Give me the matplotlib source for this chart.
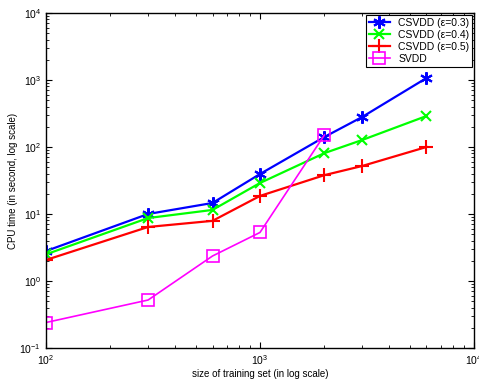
import matplotlib
matplotlib.use('Agg')
import matplotlib.pyplot as plt

# training set sizes
sizes = [100, 300, 600, 1000, 2000, 3000, 6000]
svdd_sizes = [100, 300, 600, 1000, 2000]

# CPU times in seconds
csvdd_03 = [2.8, 10, 14.6, 39.5, 141, 280, 1070]
csvdd_04 = [2.5, 8.7, 11.5, 29, 81, 127, 290]
csvdd_05 = [2.06, 6.4, 7.9, 18.6, 38, 52, 100]
svdd = [0.24, 0.52, 2.36, 5.3, 151]

labels = ['CSVDD (\u03b5=0.3)', 'CSVDD (\u03b5=0.4)', 'CSVDD (\u03b5=0.5)', 'SVDD']

plt.rcParams['font.family'] = ['Liberation Sans', 'DejaVu Sans']
plt.rcParams['mathtext.fontset'] = 'custom'
plt.rcParams['mathtext.rm'] = 'Liberation Sans'

fig = plt.figure(figsize=(4.79, 3.83), dpi=100)
ax = fig.add_axes([0.096, 0.0914, 0.8935, 0.8747])

ax.plot(sizes, csvdd_03, color='#0000ff', marker=(6, 2, 0), markersize=9,
        markeredgewidth=1.5, linewidth=1.6, label=labels[0])
ax.plot(sizes, csvdd_04, color='#00ff00', marker='x', markersize=7,
        markeredgewidth=1.5, linewidth=1.6, label=labels[1])
ax.plot(sizes, csvdd_05, color='#ff0000', marker='+', markersize=10,
        markeredgewidth=1.5, linewidth=1.6, label=labels[2])
ax.plot(svdd_sizes, svdd, color='#ff00ff', marker='s', markersize=8,
        markerfacecolor='none', markeredgewidth=1.2, linewidth=1.2, label=labels[3])

ax.set_xscale('log')
ax.set_yscale('log')
ax.set_xlim(100, 10000)
ax.set_ylim(0.1, 10000)

ax.tick_params(which='both', direction='in', top=True, right=True, labelsize=7.5)
ax.tick_params(which='major', length=4)
ax.tick_params(which='minor', length=2)
for s in ax.spines.values():
    s.set_linewidth(1.0)

ax.set_xlabel('size of training set (in log scale)', fontsize=7, labelpad=2)
ax.set_ylabel('CPU time (in second, log scale)', fontsize=7)
ax.yaxis.set_label_coords(-0.066, 0.5)

leg = ax.legend(loc='upper right', fontsize=7.5, frameon=True, fancybox=False,
                edgecolor='black', framealpha=1, borderpad=0.3,
                handlelength=2.0, labelspacing=0.2, borderaxespad=0.15)
leg.get_frame().set_linewidth(0.8)

fig.savefig('out.png', dpi=100)
